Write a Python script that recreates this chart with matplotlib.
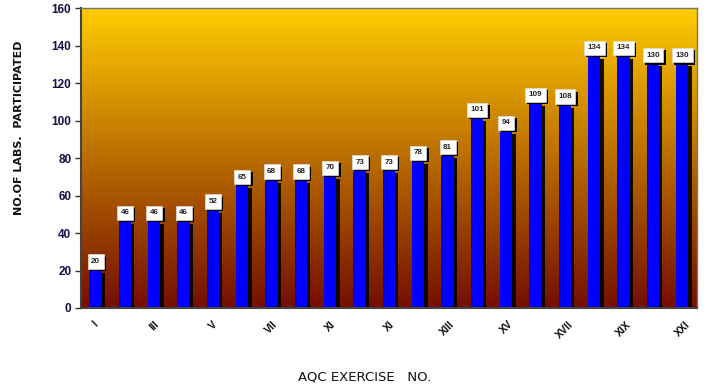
import numpy as np
import matplotlib
matplotlib.use("Agg")
import matplotlib.pyplot as plt
import matplotlib.patheffects as pe

# labs participating in each AQC exercise
exercises = ["I", "II", "III", "IV", "V", "VI", "VII", "VIII", "IX", "X", "XI",
             "XII", "XIII", "XIV", "XV", "XVI", "XVII", "XVIII", "XIX", "XX", "XXI"]
labs = [20, 46, 46, 46, 52, 65, 68, 68, 70, 73, 73,
        78, 81, 101, 94, 109, 108, 134, 134, 130, 130]
# tick labels shown on every other bar
tick_names = ["I", "III", "V", "VII", "XI", "XI", "XIII", "XV", "XVII", "XIX", "XXI"]

plt.rcParams['font.family'] = ['Liberation Sans', 'DejaVu Sans']

fig = plt.figure(figsize=(7.06, 3.91), dpi=100)
ax = fig.add_axes([0.1147, 0.2123, 0.8725, 0.767])

n = len(labs)
x = np.arange(n)
ax.set_xlim(-0.5, n - 0.5)
ax.set_ylim(0, 160)

# yellow -> dark red background
top = np.array([255, 204, 0]) / 255.0
bot = np.array([116, 14, 0]) / 255.0
t = np.linspace(0, 1, 256)[:, None]
grad = top * (1 - t) + bot * t
ax.imshow(grad[:, None, :], extent=(-0.5, n - 0.5, 0, 160), aspect='auto',
          zorder=0, interpolation='bilinear')

shadow = [pe.SimplePatchShadow(offset=(2.2, -1.5), shadow_rgbFace='black', alpha=0.9),
          pe.Normal()]
bars = ax.bar(x, labs, width=0.42, color='#0000ff', edgecolor='none', zorder=2)
for b in bars:
    b.set_path_effects(shadow)

for xi, v in zip(x, labs):
    txt = ax.annotate(str(v), (xi, v), xytext=(0, 4), textcoords='offset points',
                      ha='center', va='bottom', fontsize=5.8, fontweight='bold',
                      color='#222222', zorder=4,
                      bbox=dict(boxstyle='square,pad=0.45', fc='white', ec='#dddddd', lw=0.5))
    txt.get_bbox_patch().set_path_effects(
        [pe.SimplePatchShadow(offset=(1.6, -1.6), shadow_rgbFace='black', alpha=1), pe.Normal()])

ax.set_xticks(x[::2])
ax.set_xticklabels(tick_names, rotation=45, ha='center', va='top',
                   fontsize=7.5, fontweight='bold', color='#111111')
ax.tick_params(axis='x', length=0, pad=8)
ax.set_yticks(np.arange(0, 161, 20))
ax.tick_params(axis='y', length=4, width=1, labelsize=8.5, colors='#333333', pad=3)
for lab in ax.get_yticklabels():
    lab.set_fontweight('bold')
    lab.set_color('#111144')

for s in ['left', 'bottom']:
    ax.spines[s].set_color('#444444')
    ax.spines[s].set_linewidth(1.5)
for s in ['top', 'right']:
    ax.spines[s].set_color('#777766')
    ax.spines[s].set_linewidth(1.0)

ax.set_ylabel("NO.OF LABS.  PARTICIPATED", fontsize=8, fontweight='bold',
              family='DejaVu Sans', color='#111111')
ax.yaxis.set_label_coords(-0.092, 0.6)
fig.text(0.517, 0.036, "AQC EXERCISE   NO.", ha='center', va='center',
         fontsize=9.5, family='DejaVu Sans', color='#111111')

fig.savefig("out.png", dpi=100)
